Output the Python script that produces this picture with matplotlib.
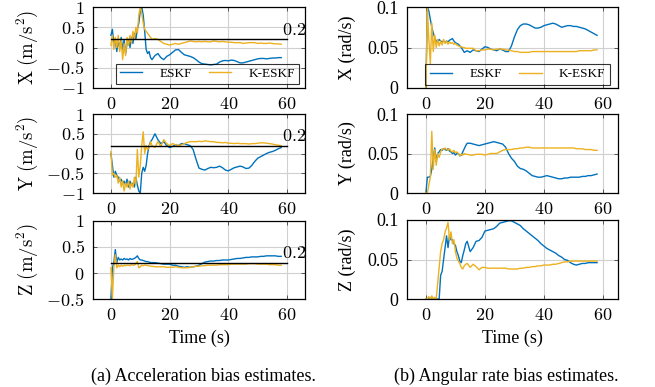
import matplotlib
matplotlib.use('Agg')
import matplotlib.pyplot as plt

plt.rcParams['mathtext.fontset'] = 'cm'
plt.rcParams['font.family'] = ['Liberation Serif', 'DejaVu Serif']

# ---------------- data ----------------
time = [0, 0.5, 1, 1.5, 2, 2.5, 3, 3.5, 4, 4.5, 5, 5.5, 6, 6.5, 7, 7.5, 8, 8.5, 9, 9.5,
        10, 10.5, 11, 11.5, 12, 12.5, 13, 13.5, 14,
        15, 16, 17, 18, 19, 20, 21, 22, 23, 24, 25,
        26, 27, 28, 29, 30, 31, 32, 33, 34, 35, 36,
        37, 38, 39, 40, 41, 42, 43, 44, 45, 46, 47,
        48, 49, 50, 51, 52, 53, 54, 55, 56, 57, 58]

acc_x_eskf = [0.3, 0.45, 0.1, 0.2, -0.1, 0.15, 0.0, 0.25, -0.05, 0.2, -0.15, 0.1, 0.2, 0.0, 0.25,
              0.1, 0.35, 0.2, 0.45, 0.6, 0.9, 1.0, 0.8, 0.4, -0.05, -0.15, -0.1, -0.25, -0.3,
              -0.2, -0.15, -0.25, -0.3, -0.22, -0.18, -0.12, -0.06, -0.05, -0.12, -0.18,
              -0.2, -0.22, -0.25, -0.3, -0.36, -0.4, -0.41, -0.42, -0.43, -0.42, -0.41,
              -0.36, -0.33, -0.32, -0.33, -0.31, -0.32, -0.35, -0.38, -0.38, -0.36, -0.34,
              -0.32, -0.3, -0.28, -0.27, -0.27, -0.28, -0.27, -0.26, -0.26, -0.25, -0.25]
acc_x_keskf = [0.05, 0.3, -0.05, 0.25, 0.0, 0.3, -0.1, 0.2, -0.3, 0.1, -0.2, 0.25, 0.05, 0.3, 0.1,
               0.4, 0.2, 0.5, 0.35, 0.8, 1.0, 0.85, 0.6, 0.45, 0.4, 0.35, 0.3, 0.25, 0.2,
               0.22, 0.2, 0.15, 0.1, 0.08, 0.06, 0.08, 0.1, 0.08, 0.1, 0.12,
               0.14, 0.16, 0.15, 0.14, 0.15, 0.14, 0.15, 0.14, 0.14, 0.16, 0.15,
               0.14, 0.15, 0.14, 0.13, 0.13, 0.12, 0.12, 0.12, 0.1, 0.11, 0.12,
               0.12, 0.12, 0.1, 0.11, 0.1, 0.1, 0.11, 0.1, 0.09, 0.09, 0.08]

acc_y_eskf = [0.0, -0.3, -0.6, -0.45, -0.55, -0.6, -0.7, -0.65, -0.75, -0.7, -0.8, -0.65, -0.85, -0.7,
              -0.8, -0.75, -0.85, -0.6, -0.8, -0.95, -1.0, -0.5, -0.35, -0.45, -0.3, 0.0, 0.2, 0.3, 0.35,
              0.5, 0.35, 0.25, 0.3, 0.2, 0.15, 0.18, 0.22, 0.2, 0.25, 0.25,
              0.22, 0.2, 0.1, -0.15, -0.37, -0.4, -0.42, -0.38, -0.35, -0.36, -0.35,
              -0.32, -0.36, -0.42, -0.44, -0.4, -0.36, -0.34, -0.32, -0.34, -0.38, -0.37,
              -0.3, -0.2, -0.12, -0.08, -0.04, 0.0, 0.03, 0.05, 0.08, 0.12, 0.15]
acc_y_keskf = [0.05, -0.55, -0.5, -0.6, -0.55, -0.75, -0.6, -0.85, -0.7, -0.95, -0.75, -0.85, -0.7, -0.9,
               -0.75, -0.85, -0.6, -0.8, 0.1, -0.6, -0.3, 0.2, 0.55, 0.0, 0.2, 0.1, 0.15, 0.3, 0.2,
               0.15, 0.3, 0.18, 0.35, 0.25, 0.2, 0.25, 0.22, 0.2, 0.22, 0.25,
               0.28, 0.3, 0.3, 0.3, 0.31, 0.3, 0.32, 0.31, 0.3, 0.3, 0.28,
               0.28, 0.27, 0.28, 0.26, 0.26, 0.25, 0.26, 0.25, 0.25, 0.25, 0.24,
               0.25, 0.25, 0.26, 0.27, 0.27, 0.26, 0.25, 0.24, 0.22, 0.21, 0.2]

acc_z_eskf = [-0.5, 0.1, 0.2, 0.45, 0.2, 0.3, 0.25, 0.27, 0.25, 0.28, 0.26, 0.27, 0.25, 0.28, 0.26,
              0.27, 0.28, 0.3, 0.33, 0.28, 0.25, 0.25, 0.24, 0.23, 0.22, 0.22, 0.21, 0.2, 0.2,
              0.2, 0.19, 0.18, 0.17, 0.17, 0.17, 0.15, 0.15, 0.13, 0.12, 0.11,
              0.12, 0.11, 0.12, 0.13, 0.15, 0.18, 0.21, 0.22, 0.23, 0.23, 0.24,
              0.24, 0.25, 0.25, 0.25, 0.26, 0.27, 0.28, 0.28, 0.29, 0.3, 0.3,
              0.31, 0.31, 0.31, 0.32, 0.32, 0.33, 0.33, 0.33, 0.33, 0.32, 0.32]
acc_z_keskf = [0.1, -0.5, 0.1, 0.35, 0.1, 0.15, 0.12, 0.15, 0.13, 0.15, 0.14, 0.15, 0.15, 0.14, 0.16,
               0.15, 0.15, 0.18, 0.22, 0.1, 0.12, 0.15, 0.14, 0.15, 0.15, 0.14, 0.14, 0.13, 0.13,
               0.12, 0.12, 0.12, 0.12, 0.11, 0.11, 0.11, 0.12, 0.11, 0.1, 0.1,
               0.1, 0.11, 0.12, 0.13, 0.13, 0.14, 0.14, 0.15, 0.15, 0.15, 0.15,
               0.16, 0.16, 0.16, 0.16, 0.17, 0.17, 0.17, 0.17, 0.17, 0.17, 0.18,
               0.18, 0.18, 0.17, 0.17, 0.17, 0.17, 0.16, 0.16, 0.16, 0.15, 0.15]

gyr_x_eskf = [0.0, 0.1, 0.095, 0.085, 0.075, 0.068, 0.062, 0.058, 0.057, 0.06, 0.058, 0.057, 0.058,
              0.056, 0.058, 0.057, 0.059, 0.06, 0.061, 0.058, 0.056, 0.055, 0.054, 0.052, 0.05, 0.047,
              0.044, 0.045, 0.046,
              0.044, 0.047, 0.046, 0.045, 0.048, 0.051, 0.05, 0.048, 0.047, 0.046, 0.048,
              0.047, 0.045, 0.045, 0.052, 0.063, 0.072, 0.077, 0.079, 0.079, 0.078, 0.076,
              0.074, 0.074, 0.075, 0.077, 0.078, 0.079, 0.08, 0.079, 0.077, 0.075, 0.076,
              0.077, 0.077, 0.076, 0.076, 0.075, 0.074, 0.073, 0.071, 0.069, 0.067, 0.065]
gyr_x_keskf = [0.0, 0.1, 0.06, 0.03, 0.08, 0.045, 0.065, 0.05, 0.06, 0.052, 0.058, 0.053, 0.06, 0.055,
               0.058, 0.054, 0.057, 0.055, 0.056, 0.054, 0.055, 0.053, 0.052, 0.051, 0.051, 0.05,
               0.05, 0.049, 0.049,
               0.049, 0.049, 0.046, 0.046, 0.047, 0.047, 0.048, 0.048, 0.047, 0.048, 0.048,
               0.048, 0.047, 0.047, 0.046, 0.045, 0.045, 0.044, 0.044, 0.044, 0.044, 0.045,
               0.045, 0.045, 0.045, 0.045, 0.045, 0.045, 0.045, 0.045, 0.045, 0.045, 0.045,
               0.045, 0.045, 0.045, 0.045, 0.046, 0.046, 0.046, 0.046, 0.046, 0.047, 0.047]

gyr_y_eskf = [0.0, 0.02, 0.02, 0.021, 0.03, 0.045, 0.057, 0.04, 0.05, 0.052, 0.055, 0.054, 0.056,
              0.055, 0.054, 0.056, 0.053, 0.052, 0.05, 0.051, 0.048, 0.05, 0.05, 0.047, 0.048, 0.052,
              0.056, 0.06, 0.063,
              0.063, 0.062, 0.061, 0.06, 0.061, 0.062, 0.063, 0.064, 0.065, 0.064, 0.063,
              0.062, 0.058, 0.05, 0.044, 0.04, 0.034, 0.031, 0.03, 0.028, 0.025, 0.022,
              0.021, 0.02, 0.02, 0.021, 0.022, 0.021, 0.02, 0.019, 0.018, 0.018, 0.019,
              0.019, 0.02, 0.02, 0.02, 0.02, 0.021, 0.021, 0.022, 0.022, 0.023, 0.024]
gyr_y_keskf = [0.0, 0.0, 0.01, 0.02, 0.078, 0.03, 0.055, 0.035, 0.05, 0.045, 0.052, 0.056, 0.055,
               0.057, 0.055, 0.054, 0.056, 0.053, 0.052, 0.054, 0.051, 0.052, 0.05, 0.047, 0.049,
               0.048, 0.05, 0.049, 0.049,
               0.048, 0.048, 0.049, 0.049, 0.049, 0.048, 0.049, 0.05, 0.05, 0.05, 0.052,
               0.054, 0.055, 0.055, 0.055, 0.056, 0.056, 0.057, 0.057, 0.058, 0.058, 0.057,
               0.057, 0.057, 0.057, 0.057, 0.057, 0.057, 0.057, 0.057, 0.057, 0.057, 0.057,
               0.057, 0.057, 0.057, 0.056, 0.056, 0.056, 0.055, 0.055, 0.055, 0.054, 0.054]

gyr_z_eskf = [0.0, 0.0, 0.0, 0.0, 0.0, 0.0, 0.0, 0.0, 0.0, 0.0, 0.03, 0.035, 0.05, 0.065, 0.08,
              0.065, 0.08, 0.075, 0.075, 0.07, 0.068, 0.06, 0.055, 0.048, 0.046, 0.055, 0.062,
              0.07, 0.073,
              0.06, 0.065, 0.073, 0.074, 0.078, 0.086, 0.087, 0.088, 0.089, 0.092, 0.096,
              0.097, 0.098, 0.099, 0.099, 0.097, 0.095, 0.093, 0.089, 0.086, 0.083, 0.08,
              0.077, 0.074, 0.07, 0.067, 0.064, 0.062, 0.06, 0.058, 0.055, 0.053, 0.05,
              0.049, 0.046, 0.044, 0.043, 0.044, 0.045, 0.045, 0.046, 0.046, 0.046, 0.046]
gyr_z_keskf = [0.0, 0.0, 0.003, 0.0, 0.004, 0.0, 0.002, 0.0, 0.02, 0.04, 0.06, 0.07, 0.075, 0.085,
               0.09, 0.097, 0.075, 0.085, 0.07, 0.075, 0.06, 0.052, 0.048, 0.045, 0.04, 0.038,
               0.042, 0.044, 0.045,
               0.04, 0.044, 0.041, 0.037, 0.04, 0.04, 0.039, 0.039, 0.039, 0.039, 0.039,
               0.039, 0.039, 0.038, 0.038, 0.038, 0.038, 0.039, 0.039, 0.04, 0.04, 0.041,
               0.041, 0.042, 0.042, 0.043, 0.043, 0.043, 0.044, 0.044, 0.045, 0.046, 0.047,
               0.047, 0.048, 0.048, 0.048, 0.048, 0.048, 0.048, 0.048, 0.048, 0.048, 0.048]

ref_value = 0.2
ref_t = [0, 60]
series_names = ['ESKF', 'K-ESKF']
x_ticks = [0, 20, 40, 60]
acc_ticks = {'X': [-1, -0.5, 0, 0.5, 1], 'Y': [-1, -0.5, 0, 0.5, 1], 'Z': [-0.5, 0, 0.5, 1]}
gyr_ticks = [0, 0.05, 0.1]
axis_names = ['X', 'Y', 'Z']

acc_data = {'X': (acc_x_eskf, acc_x_keskf), 'Y': (acc_y_eskf, acc_y_keskf), 'Z': (acc_z_eskf, acc_z_keskf)}
gyr_data = {'X': (gyr_x_eskf, gyr_x_keskf), 'Y': (gyr_y_eskf, gyr_y_keskf), 'Z': (gyr_z_eskf, gyr_z_keskf)}
for d in (acc_data, gyr_data):
    for k, (a, b) in d.items():
        assert len(a) == len(time), (k, len(a))
        assert len(b) == len(time), (k, len(b))

# ---------------- styling ----------------
BLUE = '#0072BD'
YELLOW = '#EDB120'
W, H = 655, 387
fig = plt.figure(figsize=(W / 100, H / 100), dpi=100)

def rect(x0, x1, y0, y1):
    return [x0 / W, 1 - y1 / H, (x1 - x0) / W, (y1 - y0) / H]

left_rects = [rect(93, 305, 7, 88), rect(93, 305, 114, 193), rect(93, 305, 221, 299)]
right_rects = [rect(407, 618, 7, 88), rect(407, 618, 114, 193), rect(407, 618, 220, 299)]

def fmt(v):
    s = ('%g' % v)
    return r'$%s$' % s

def style(ax):
    ax.grid(True, color='#d0d0d0', linewidth=0.8)
    ax.set_axisbelow(True)
    for sp in ax.spines.values():
        sp.set_linewidth(0.9)
    ax.tick_params(direction='in', length=3, width=0.7, top=True, right=True,
                   labelsize=13, pad=6, color='#555555')
    ax.set_xticks(x_ticks)
    ax.set_xticklabels([fmt(v) for v in x_ticks])

for i, name in enumerate(axis_names):
    ax = fig.add_axes(left_rects[i])
    style(ax)
    e, k = acc_data[name]
    l1, = ax.plot(time, e, color=BLUE, lw=1.0)
    l2, = ax.plot(time, k, color=YELLOW, lw=1.0)
    ax.plot(ref_t, [ref_value, ref_value], color='black', lw=1.0)
    ax.text(58.3, ref_value + 0.01, '$%g$' % ref_value, fontsize=13, ha='left', va='bottom', clip_on=False)
    ax.set_xlim(-6.1, 66.1)
    ticks = acc_ticks[name]
    ax.set_ylim(min(ticks), max(ticks))
    ax.set_yticks(ticks)
    ax.set_yticklabels([fmt(v) for v in ticks])
    ax.set_ylabel(r'$\mathrm{%s\ (m/s^2)}$' % name, fontsize=13.5, va='center')
    ax.yaxis.set_label_coords(-0.31, 0.5)
    if i == 0:
        leg = ax.legend([l1, l2], series_names, ncol=2, loc='lower right',
                        bbox_to_anchor=(0.972, 0.049), fontsize=9.5, frameon=True,
                        fancybox=False, edgecolor='black', facecolor='none',
                        handlelength=1.7, handletextpad=1.3, columnspacing=1.3,
                        borderpad=0.3, borderaxespad=0)
        leg.get_frame().set_linewidth(0.8)

for i, name in enumerate(axis_names):
    ax = fig.add_axes(right_rects[i])
    style(ax)
    e, k = gyr_data[name]
    l1, = ax.plot(time, e, color=BLUE, lw=1.0)
    l2, = ax.plot(time, k, color=YELLOW, lw=1.0)
    ax.set_xlim(-6.4, 65.1)
    ax.set_ylim(0, 0.1)
    ax.set_yticks(gyr_ticks)
    ax.set_yticklabels(['%g' % v for v in gyr_ticks], fontsize=13)
    ax.set_ylabel('%s (rad/s)' % name, fontsize=13, va='center')
    ax.yaxis.set_label_coords(-0.285, 0.5)
    if i == 0:
        leg = ax.legend([l1, l2], series_names, ncol=2, loc='lower right',
                        bbox_to_anchor=(0.962, 0.037), fontsize=9.5, frameon=True,
                        fancybox=False, edgecolor='black', facecolor='none',
                        handlelength=1.7, handletextpad=1.3, columnspacing=1.3,
                        borderpad=0.35, borderaxespad=0)
        leg.get_frame().set_linewidth(0.8)

fig.text(199 / W, 1 - 338 / H, 'Time (s)', fontsize=13, ha='center', va='center')
fig.text(512 / W, 1 - 338 / H, 'Time (s)', fontsize=13, ha='center', va='center')
fig.text(203 / W, 1 - 376 / H, '(a) Acceleration bias estimates.', fontsize=13, ha='center', va='center')
fig.text(506 / W, 1 - 376 / H, '(b) Angular rate bias estimates.', fontsize=13, ha='center', va='center')

fig.savefig('out.png', dpi=100)
